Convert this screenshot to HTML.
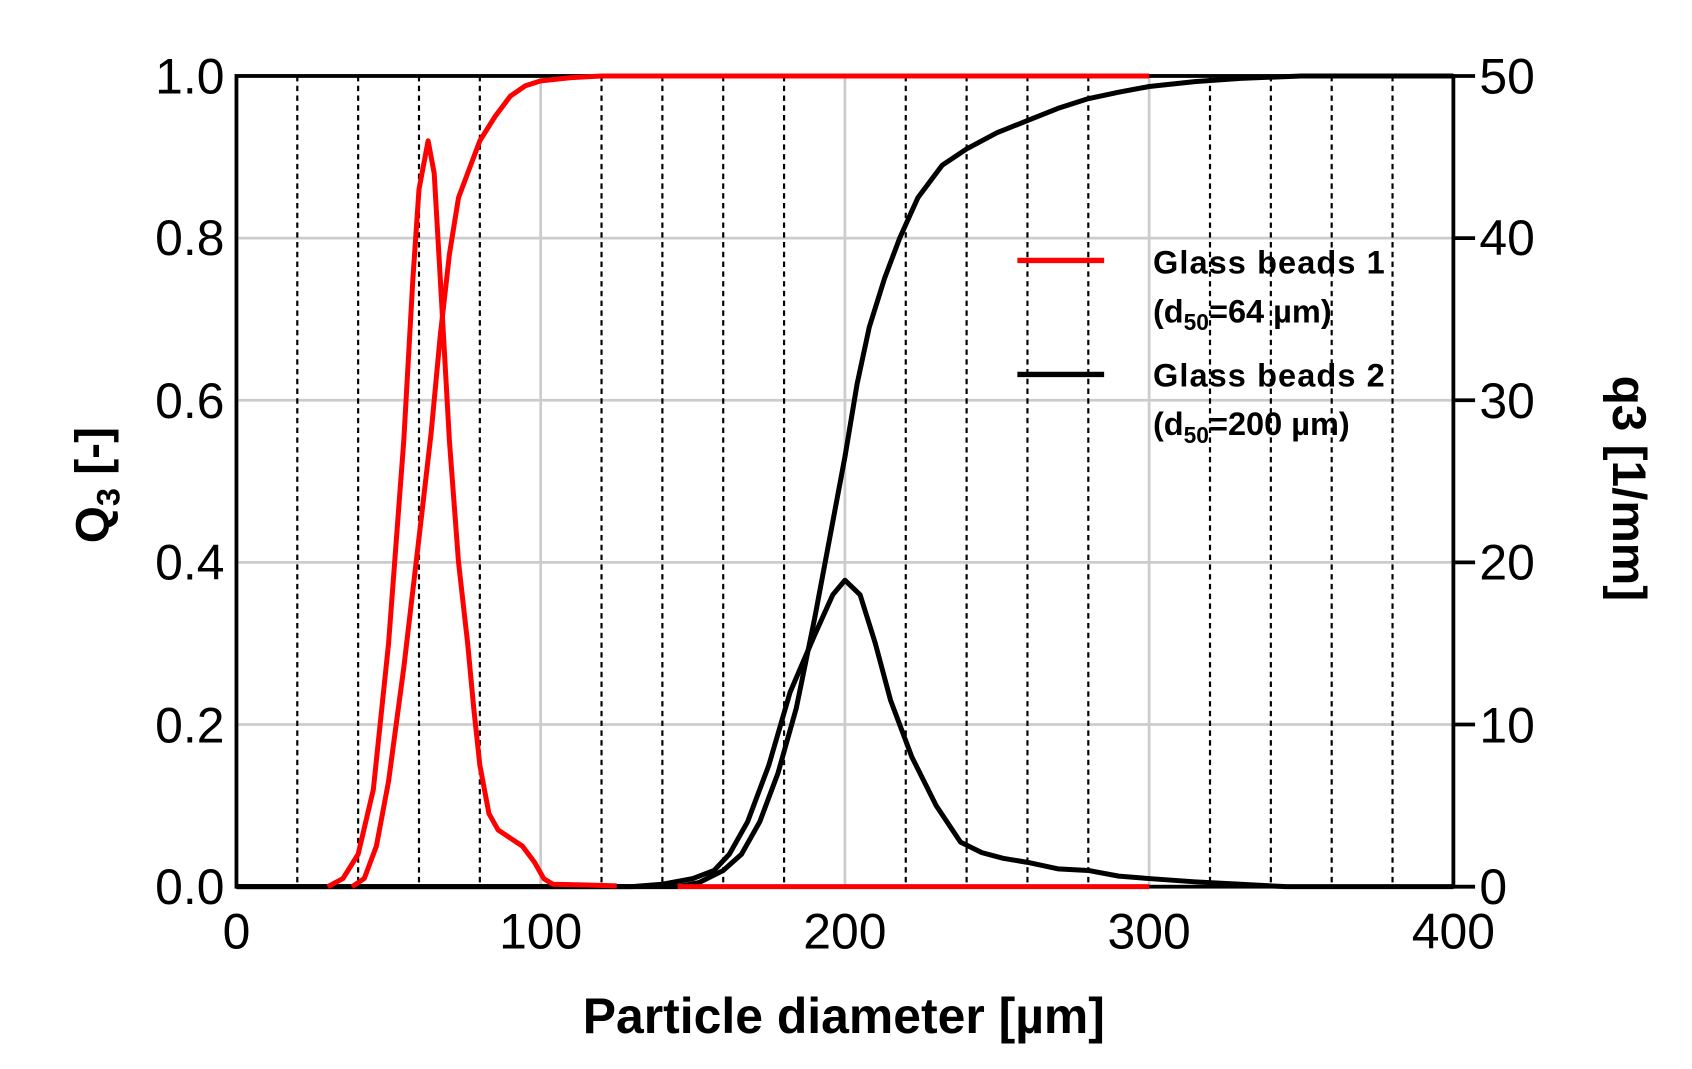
<!DOCTYPE html>
<html><head><meta charset="utf-8"><style>
html,body{margin:0;padding:0;background:#fff;}
svg{display:block}
text{font-family:"Liberation Sans",Arial,sans-serif;}
</style></head><body>
<svg width="1692" height="1069" viewBox="0 0 1560 985" preserveAspectRatio="none">
<rect width="1560" height="985" fill="#fff"/>
<g stroke="#ccc" stroke-width="2.5">
<line x1="498.5" y1="70" x2="498.5" y2="817"/>
<line x1="779" y1="70" x2="779" y2="817"/>
<line x1="1059.5" y1="70" x2="1059.5" y2="817"/>
<line x1="218" y1="219.4" x2="1340" y2="219.4"/>
<line x1="218" y1="368.8" x2="1340" y2="368.8"/>
<line x1="218" y1="518.2" x2="1340" y2="518.2"/>
<line x1="218" y1="667.6" x2="1340" y2="667.6"/>
</g>
<g stroke="#000" stroke-width="2" stroke-dasharray="5,4">
<line x1="274.1" y1="70" x2="274.1" y2="817"/><line x1="330.2" y1="70" x2="330.2" y2="817"/><line x1="386.3" y1="70" x2="386.3" y2="817"/><line x1="442.4" y1="70" x2="442.4" y2="817"/>
<line x1="554.6" y1="70" x2="554.6" y2="817"/><line x1="610.7" y1="70" x2="610.7" y2="817"/><line x1="666.8" y1="70" x2="666.8" y2="817"/><line x1="722.9" y1="70" x2="722.9" y2="817"/>
<line x1="835.1" y1="70" x2="835.1" y2="817"/><line x1="891.2" y1="70" x2="891.2" y2="817"/><line x1="947.3" y1="70" x2="947.3" y2="817"/><line x1="1003.4" y1="70" x2="1003.4" y2="817"/>
<line x1="1115.6" y1="70" x2="1115.6" y2="817"/><line x1="1171.7" y1="70" x2="1171.7" y2="817"/><line x1="1227.8" y1="70" x2="1227.8" y2="817"/><line x1="1283.9" y1="70" x2="1283.9" y2="817"/>
</g>
<g stroke="#000" stroke-width="3.5" fill="none">
<rect x="218" y="70" width="1122" height="747"/>
<line x1="1340" y1="219.4" x2="1360" y2="219.4"/><line x1="1340" y1="368.8" x2="1360" y2="368.8"/>
<line x1="1340" y1="518.2" x2="1360" y2="518.2"/><line x1="1340" y1="667.6" x2="1360" y2="667.6"/>
<line x1="1340" y1="70" x2="1360" y2="70"/><line x1="1340" y1="817" x2="1360" y2="817"/>
</g>
<g transform="translate(218,817) scale(2.805,-747)" fill="none" stroke-linejoin="round">
<path vector-effect="non-scaling-stroke" stroke="#000" stroke-width="5" d="M0,0 L130,0 L140,0.003 L150,0.01 L157,0.02 L162,0.04 L168,0.08 L175,0.15 L182,0.24 L190,0.31 L196,0.36 L200,0.378 L205,0.36 L210,0.3 L215,0.23 L222,0.16 L230,0.1 L238,0.055 L245,0.042 L252,0.035 L260,0.03 L270,0.022 L280,0.02 L290,0.013 L300,0.01 L315,0.006 L330,0.003 L345,0 L400,0"/>
<path vector-effect="non-scaling-stroke" stroke="#000" stroke-width="5" d="M0,0 L145,0 L152,0.005 L160,0.02 L166,0.04 L172,0.08 L178,0.14 L184,0.22 L190,0.33 L196,0.45 L200,0.53 L204,0.62 L208,0.69 L213,0.75 L218,0.8 L224,0.85 L232,0.89 L240,0.91 L250,0.93 L260,0.945 L270,0.96 L280,0.972 L290,0.98 L300,0.987 L315,0.993 L330,0.997 L350,1 L400,1"/>
<path vector-effect="non-scaling-stroke" stroke="#f00" stroke-width="5" d="M30,0 L35,0.01 L40,0.04 L45,0.12 L50,0.3 L55,0.55 L58,0.75 L60,0.86 L62,0.9 L63,0.92 L65,0.88 L67,0.75 L70,0.55 L73,0.4 L76,0.3 L78,0.22 L80,0.15 L83,0.09 L86,0.07 L90,0.06 L94,0.05 L98,0.03 L101,0.01 L104,0.003 L115,0.002 L125,0.001"/>
<path vector-effect="non-scaling-stroke" stroke="#f00" stroke-width="5" d="M145,0 L300,0"/>
<path vector-effect="non-scaling-stroke" stroke="#f00" stroke-width="5" d="M38,0 L42,0.01 L46,0.05 L50,0.13 L55,0.27 L60,0.43 L64,0.56 L67,0.68 L70,0.78 L73,0.85 L76,0.88 L80,0.92 L85,0.95 L90,0.975 L95,0.988 L100,0.994 L110,0.998 L120,1 L300,1"/>
</g>
<g font-size="46" fill="#000" text-anchor="end">
<text x="207" y="86">1.0</text><text x="207" y="235">0.8</text><text x="207" y="385">0.6</text>
<text x="207" y="534">0.4</text><text x="207" y="684">0.2</text><text x="207" y="833">0.0</text>
</g>
<g font-size="46" fill="#000" text-anchor="start">
<text x="1364" y="86">50</text><text x="1364" y="235">40</text><text x="1364" y="385">30</text>
<text x="1364" y="534">20</text><text x="1364" y="684">10</text><text x="1364" y="833">0</text>
</g>
<g font-size="46" fill="#000" text-anchor="middle">
<text x="218" y="874">0</text><text x="498.5" y="874">100</text><text x="779" y="874">200</text>
<text x="1059.5" y="874">300</text><text x="1340" y="874">400</text>
</g>
<text x="778" y="952" font-size="46" font-weight="bold" text-anchor="middle">Particle diameter [µm]</text>
<text transform="translate(100,447) rotate(-90)" font-size="44" font-weight="bold" text-anchor="middle">Q<tspan font-size="30" dy="10">3</tspan><tspan dy="-10"> [-]</tspan></text>
<text transform="translate(1487,450) rotate(90)" font-size="44" font-weight="bold" text-anchor="middle">q3 [1/mm]</text>
<line x1="938" y1="240" x2="1018" y2="240" stroke="#f00" stroke-width="5"/>
<line x1="938" y1="345" x2="1018" y2="345" stroke="#000" stroke-width="5"/>
<g font-size="30" font-weight="bold" fill="#000">
<text x="1063" y="252" letter-spacing="1">Glass beads 1</text>
<text x="1063" y="297">(d<tspan font-size="21" dy="7">50</tspan><tspan dy="-7">=64 µm)</tspan></text>
<text x="1063" y="356" letter-spacing="1">Glass beads 2</text>
<text x="1063" y="401">(d<tspan font-size="21" dy="7">50</tspan><tspan dy="-7">=200 µm)</tspan></text>
</g>
</svg>
</body></html>
